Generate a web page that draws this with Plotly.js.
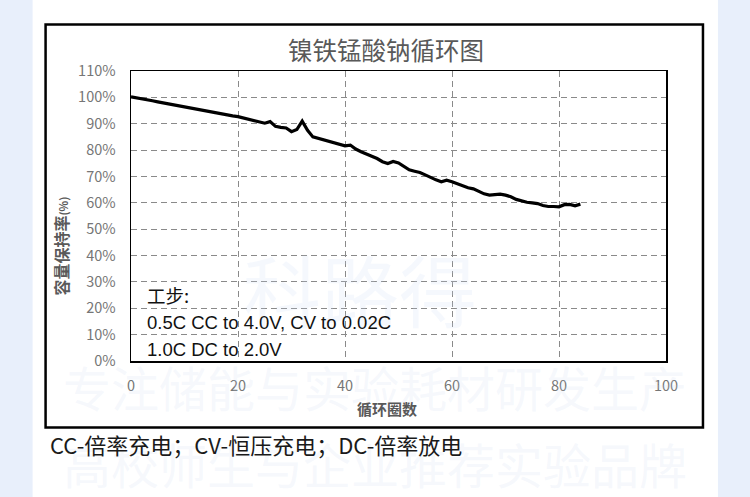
<!DOCTYPE html>
<html>
<head>
<meta charset="utf-8">
<script src="https://cdn.plot.ly/plotly-3.0.1.min.js"></script>
<style>
  html, body { margin: 0; padding: 0; background: #e8effb; }
  #chart { width: 750px; height: 497px; }
</style>
</head>
<body>
<div id="chart"></div>
<script>
/* cycle number and capacity retention (%) */
var cycles = [0, 1, 2, 3, 4, 5, 6, 7, 8, 9,
              10, 11, 12, 13, 14, 15, 16, 17, 18, 19,
              20, 21, 22, 23, 24, 25, 26, 27, 28, 29,
              30, 31, 32, 33, 34, 35, 36, 37, 38, 39,
              40, 41, 42, 43, 44, 45, 46, 47, 48, 49,
              50, 51, 52, 53, 54, 55, 56, 57, 58, 59,
              60, 61, 62, 63, 64, 65, 66, 67, 68, 69,
              70, 71, 72, 73, 74, 75, 76, 77, 78, 79,
              80, 81, 82, 83, 84];
var retention = [100.2, 99.9, 99.5, 99.1, 98.7, 98.3, 97.9, 97.5, 97.2, 96.8,
                 96.3, 95.9, 95.5, 95.1, 94.7, 94.3, 93.9, 93.6, 93.3, 93.0,
                 92.7, 92.2, 91.6, 91.0, 90.4, 90.2, 90.8, 89.0, 88.6, 88.4,
                 87.0, 87.8, 91.0, 87.5, 85.0, 84.4, 83.9, 83.3, 82.8, 82.2,
                 81.6, 81.9, 80.4, 79.4, 78.4, 77.7, 76.8, 75.6, 74.9, 75.7,
                 75.1, 73.8, 72.5, 72.0, 71.5, 70.6, 69.5, 68.7, 68.0, 68.6,
                 68.0, 67.2, 66.3, 65.7, 65.3, 64.4, 63.4, 62.9, 63.2, 63.3,
                 62.9, 62.3, 61.3, 60.6, 60.2, 60.0, 59.7, 59.0, 58.6, 58.6,
                 58.5, 59.3, 59.4, 58.9, 59.5];

var chartTitle = '镍铁锰酸钠循环图';
var xTitle = '循环圈数';
var yTitle = '容量保持率<span style="font-size:11px">(%)</span>';
var stepLines = ['工步:', '0.5C CC to 4.0V, CV to 0.02C', '1.0C DC to 2.0V'];
var footNote = 'CC-倍率充电；CV-恒压充电；DC-倍率放电';
var watermark = ['科路得', '专注储能与实验耗材研发生产', '高校师生与企业推荐实验品牌'];

// plot box in pixels, used to place the extra texts and frames
var L = 130.5, R = 666, T = 71, B = 361;
function px(p) { return (p - L) / (R - L); }
function py(p) { return (B - p) / (B - T); }

var cjk = '"Noto Sans CJK SC", "Noto Sans", sans-serif';
var grey = '#595959';
var faint = 'rgba(200,215,242,0.18)';

var data = [{
  x: cycles,
  y: retention,
  type: 'scatter',
  mode: 'lines',
  line: { color: '#000000', width: 3.2 },
  hoverinfo: 'skip'
}];

var annotations = [
  // faint watermark text first, so the chart texts sit on top of it
  { text: watermark[0], x: px(360), y: py(288), font: { family: cjk, size: 78, color: faint } },
  { text: watermark[1], x: px(375), y: py(386), font: { family: cjk, size: 48, color: faint } },
  { text: watermark[2], x: px(375), y: py(463), font: { family: cjk, size: 48, color: faint } },
  { text: chartTitle, x: px(386), y: py(50), font: { family: cjk, size: 24.5, color: grey } },
  { text: '<b>' + xTitle + '</b>', x: px(386.5), y: py(408), font: { family: cjk, size: 15, color: grey } },
  { text: '<b>' + yTitle + '</b>', x: px(60), y: py(246), textangle: -90, font: { family: cjk, size: 16, color: grey } },
  { text: footNote, x: px(47), y: py(444), xanchor: 'left', font: { family: cjk, size: 22, color: '#1a1a1a' } }
];
stepLines.forEach(function (t, i) {
  annotations.push({
    text: t, x: px(145), y: py(295 + i * 27), xanchor: 'left',
    font: { family: i === 0 ? cjk : '"Liberation Sans", Arial, sans-serif', size: 18.5, color: '#111111' }
  });
});
annotations.forEach(function (a) {
  a.xref = 'paper'; a.yref = 'paper'; a.showarrow = false;
  if (!a.xanchor) a.xanchor = 'center';
  a.yanchor = 'middle';
});

var shapes = [
  // white sheet behind the chart
  { type: 'rect', xref: 'paper', yref: 'paper', x0: px(32), x1: px(718), y0: py(510), y1: py(-10),
    fillcolor: '#ffffff', line: { width: 0 }, layer: 'below' },
  // outer chart frame
  { type: 'rect', xref: 'paper', yref: 'paper', x0: px(45), x1: px(703), y0: py(427.5), y1: py(24.5),
    fillcolor: 'rgba(0,0,0,0)', line: { color: '#000000', width: 2.5 }, layer: 'above' }
];

var axisFont = { family: cjk, size: 14.5, color: '#767676' };

var layout = {
  width: 750,
  height: 497,
  showlegend: false,
  paper_bgcolor: '#e8effb',
  plot_bgcolor: 'rgba(0,0,0,0)',
  margin: { l: L, r: 750 - R, t: T, b: 497 - B, pad: 0 },
  xaxis: {
    range: [0, 100], dtick: 20, tick0: 0,
    showgrid: true, gridcolor: '#8a8a8a', gridwidth: 1, griddash: '6px,4px',
    zeroline: false, showline: true, linecolor: '#000000', linewidth: 1.5, mirror: true,
    ticks: '', ticklabelstandoff: 11, tickfont: axisFont
  },
  yaxis: {
    range: [0, 110], dtick: 10, tick0: 0, ticksuffix: '%',
    showgrid: true, gridcolor: '#8a8a8a', gridwidth: 1, griddash: '6px,4px',
    zeroline: false, showline: true, linecolor: '#000000', linewidth: 1.5, mirror: true,
    ticks: '', ticklabelstandoff: 11, tickfont: axisFont
  },
  annotations: annotations,
  shapes: shapes
};

Plotly.newPlot('chart', data, layout, { staticPlot: true, displayModeBar: false });
</script>
</body>
</html>
